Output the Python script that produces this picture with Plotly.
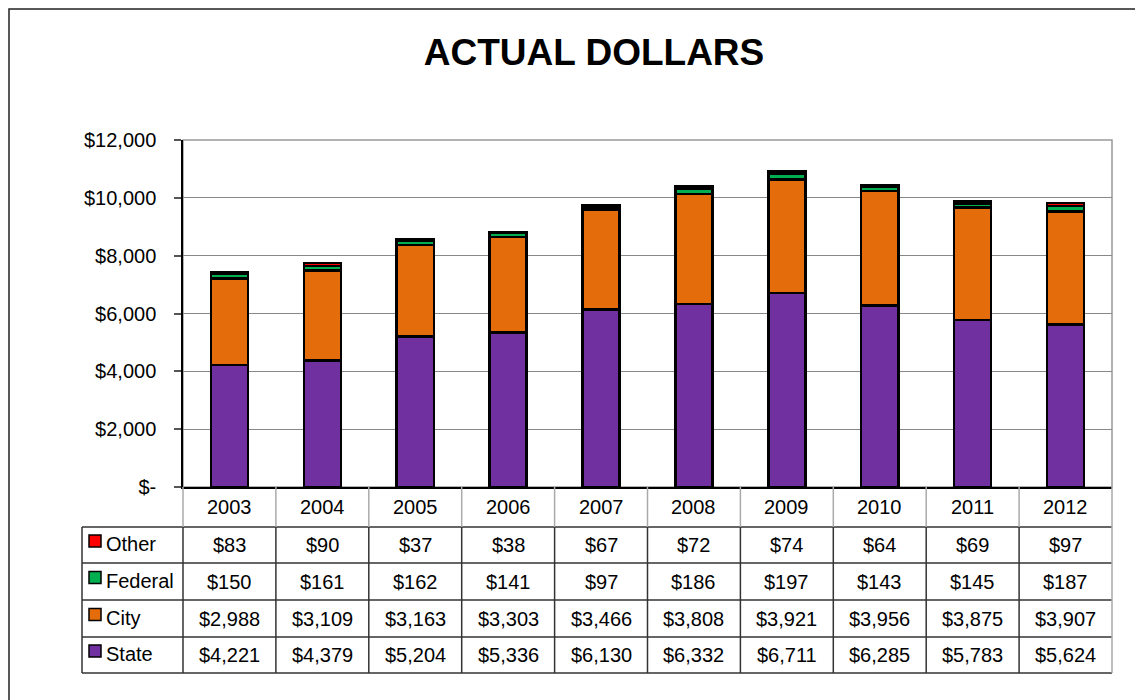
import plotly.graph_objects as go

years = ["2003", "2004", "2005", "2006", "2007", "2008", "2009", "2010", "2011", "2012"]
state = [4221, 4379, 5204, 5336, 6130, 6332, 6711, 6285, 5783, 5624]
city = [2988, 3109, 3163, 3303, 3466, 3808, 3921, 3956, 3875, 3907]
federal = [150, 161, 162, 141, 97, 186, 197, 143, 145, 187]
other = [83, 90, 37, 38, 67, 72, 74, 64, 69, 97]

y_ticks = [0, 2000, 4000, 6000, 8000, 10000, 12000]
y_tick_text = ["$-", "$2,000", "$4,000", "$6,000", "$8,000", "$10,000", "$12,000"]

# stacking order bottom -> top (table lists them top -> bottom)
series = [
    ("State", state, "#7030A0"),
    ("City", city, "#E46C0A"),
    ("Federal", federal, "#00B050"),
    ("Other", other, "#FF0000"),
]

OFF = 8  # page body margin
W, H = 1143 - OFF, 700 - OFF
L, R, T, B = 183, 1112, 140, 487  # plot area in screen pixels
FONT = "Liberation Sans, Arial, sans-serif"


def px_x(px):
    return (px - L) / (R - L)


def px_y(py):
    return (B - py) / (B - T)


fig = go.Figure()
for name, vals, color in series:
    fig.add_trace(go.Bar(
        x=years, y=vals, name=name,
        marker=dict(color=color, line=dict(color="black", width=2.5)),
        showlegend=False,
    ))

shapes = []
annotations = []

# outer chart border
shapes.append(dict(type="rect", xref="paper", yref="paper",
                   x0=px_x(9), x1=px_x(1200), y0=px_y(760), y1=px_y(9),
                   line=dict(color="#222", width=1.5), layer="below"))

# plot area border (top / right)
shapes.append(dict(type="rect", xref="paper", yref="paper",
                   x0=0, x1=1, y0=0, y1=1, line=dict(color="#999", width=1.5),
                   layer="below"))

# data table
row_edges = [487, 527, 563, 600, 637, 673]
n = len(years)
line_dark = dict(color="#333", width=1.5)
line_light = dict(color="#aaa", width=1.5)

for py in row_edges[1:]:
    shapes.append(dict(type="line", xref="paper", yref="paper",
                       x0=px_x(82), x1=1, y0=px_y(py), y1=px_y(py), line=line_dark))
for k in range(n + 1):
    xk = k / n
    shapes.append(dict(type="line", xref="paper", yref="paper",
                       x0=xk, x1=xk, y0=px_y(row_edges[0]), y1=px_y(row_edges[1]),
                       line=line_light))
    shapes.append(dict(type="line", xref="paper", yref="paper",
                       x0=xk, x1=xk, y0=px_y(row_edges[1]), y1=px_y(row_edges[-1]),
                       line=line_dark if k < n else line_light))
shapes.append(dict(type="line", xref="paper", yref="paper",
                   x0=px_x(82), x1=px_x(82), y0=px_y(row_edges[1]), y1=px_y(row_edges[-1]),
                   line=line_dark))

cell_font = dict(size=20, color="black", family=FONT)

# header row: years
for i, yr in enumerate(years):
    annotations.append(dict(x=i, xref="x", y=px_y((row_edges[0] + row_edges[1]) / 2),
                            yref="paper", yanchor="middle", text=yr,
                            showarrow=False, font=cell_font))

# value rows
for r, (name, vals, color) in enumerate(reversed(series)):
    top, bot = row_edges[r + 1], row_edges[r + 2]
    cy = (top + bot) / 2
    shapes.append(dict(type="rect", xref="paper", yref="paper",
                       x0=px_x(89), x1=px_x(101), y0=px_y(cy + 2), y1=px_y(cy - 10),
                       fillcolor=color, line=dict(color="black", width=1.5)))
    annotations.append(dict(x=px_x(104), xref="paper", y=px_y(cy - 1), yref="paper",
                            xanchor="left", yanchor="middle", text=name,
                            showarrow=False, font=cell_font))
    for i, v in enumerate(vals):
        annotations.append(dict(x=i, xref="x", y=px_y(cy), yref="paper",
                                yanchor="middle", text=f"${v:,}",
                                showarrow=False, font=cell_font))

fig.update_layout(
    width=W, height=H,
    margin=dict(l=L - OFF, r=W - (R - OFF), t=T - OFF, b=H - (B - OFF), pad=0),
    paper_bgcolor="white", plot_bgcolor="white",
    barmode="stack", bargap=0.6,
    font=dict(family=FONT, size=20, color="black"),
    title=dict(text="<b>ACTUAL DOLLARS</b>", x=(594 - OFF) / W, xanchor="center",
               y=1 - (52 - OFF) / H, yanchor="middle",
               font=dict(size=37, family=FONT, color="black")),
    xaxis=dict(type="category", range=[-0.5, n - 0.5], showticklabels=False,
               ticks="", showline=True, linecolor="black", linewidth=1.5,
               showgrid=False),
    yaxis=dict(range=[0, 12000], tickvals=y_ticks, ticktext=y_tick_text,
               ticks="outside", ticklen=7, tickcolor="#555", tickwidth=1.5,
               ticklabelstandoff=14,
               showline=True, linecolor="black", linewidth=1.5,
               showgrid=True, gridcolor="#888", gridwidth=1.2, zeroline=False,
               tickfont=dict(size=20, family=FONT)),
    shapes=shapes,
    annotations=annotations,
)

fig.write_html("out.html")
